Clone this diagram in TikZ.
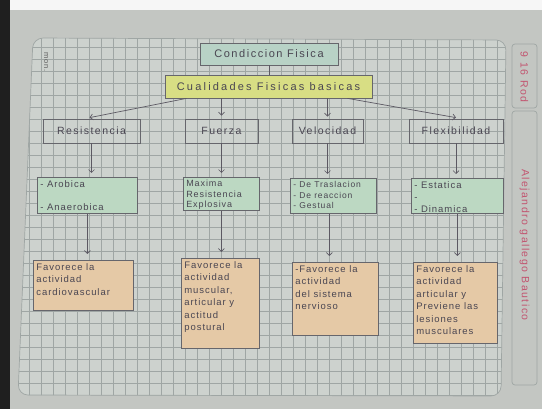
\documentclass[tikz,border=0pt]{standalone}
\usepackage{fontspec}
\newfontfamily\hand[LetterSpace=10]{Liberation Sans}
\newfontfamily\handmid[LetterSpace=14]{Liberation Sans}
\newfontfamily\handwide[LetterSpace=20]{Liberation Sans}
\usetikzlibrary{arrows.meta,calc}

\definecolor{pagegray}{HTML}{C3C6C2}
\definecolor{gridpaper}{HTML}{CDD2CE}
\definecolor{gridline}{HTML}{9FA6A4}
\definecolor{boxline}{HTML}{66666C}
\definecolor{ink}{HTML}{4A4652}
\definecolor{topfill}{HTML}{B8D2C6}
\definecolor{yellowfill}{HTML}{D8DE84}
\definecolor{greenfill}{HTML}{BCD8C2}
\definecolor{orangefill}{HTML}{E5C9A6}
\definecolor{redink}{HTML}{C25570}

% fixed-size, top-aligned text block inside a box
\newcommand\pad[3]{\parbox[t][#2][t]{#1}{\raggedright #3}}

\tikzset{
  conn/.style={draw=ink!90, line width=0.7pt, -{Straight Barb[length=3pt,width=6pt]}},
  plain/.style={draw=ink!90, line width=0.7pt},
  handtext/.style={font=\hand\fontsize{9.5}{12.5}\selectfont, text=ink},
  topbox/.style={text=ink, draw=boxline, line width=0.7pt, fill=topfill, inner sep=0pt,
                 font=\handmid\fontsize{11}{13}\selectfont},
  yellowbox/.style={text=ink, draw=boxline, line width=0.7pt, fill=yellowfill, inner sep=0pt,
                 font=\handwide\fontsize{11}{13}\selectfont},
  lvltwo/.style={text=ink, draw=boxline, line width=0.7pt, minimum height=24pt, inner sep=0pt,
                 font=\handmid\fontsize{10.5}{12}\selectfont},
  greenbox/.style={handtext, draw=boxline, line width=0.7pt, fill=greenfill, anchor=north west, inner sep=3pt},
  orangebox/.style={handtext, draw=boxline, line width=0.7pt, fill=orangefill, anchor=north west, inner sep=3pt},
  sidebox/.style={draw=gridline, line width=0.7pt, rounded corners=3pt},
  sidetext/.style={text=redink, font=\handmid\fontsize{10.5}{11}\selectfont, rotate=-90}
}

\begin{document}
\begin{tikzpicture}[x=1pt,y=-1pt]
\useasboundingbox (0,0) rectangle (542,409);

% page and binding edge
\fill[white!93!gray] (0,0) rectangle (542,409);
\fill[pagegray] (10,10) rectangle (542,409);
\fill[black!88] (0,0) rectangle (10,409);

% squared paper area
\path[fill=gridpaper, rounded corners=10pt] (33,38) -- (506,40) -- (501,396) -- (18,395) -- cycle;
\begin{scope}
  \clip[rounded corners=10pt] (33,38) -- (506,40) -- (501,396) -- (18,395) -- cycle;
  \foreach \x in {29,41,...,509} \draw[gridline, line width=0.45pt] (\x,30) -- (\x,400);
  \foreach \y in {47,59,...,395} \draw[gridline, line width=0.45pt] (10,\y) -- (510,\y);
\end{scope}
\draw[gridline, line width=0.7pt, rounded corners=10pt] (33,38) -- (506,40) -- (501,396) -- (18,395) -- cycle;

% pencil note in the corner
\node[text=gray!75!black, font=\hand\fontsize{7.5}{8}\selectfont, rotate=-90] (note) at (46,62) {mon.};

% side margin: group and name
\draw[sidebox] (512,44) rectangle (537,108);
\draw[sidebox] (512,111) rectangle (537,385);
\node[sidetext] (group) at (524.5,77) {9\enspace 16\enspace Rod};
\node[sidetext] (name) at (524.5,245) {Alejandro gallego Bautico};

% title levels
\node[topbox, minimum width=138pt, minimum height=22pt] (cond) at (269,54) {Condiccion Fisica};
\node[yellowbox, minimum width=207pt, minimum height=23pt] (cual) at (268.5,86.5)
  {\raisebox{-5pt}{Cualidades Fisicas basicas}};
\draw[plain] (cond.south) -- (cond.south |- cual.north);

% the four qualities
\node[lvltwo, minimum width=97pt] (res)  at (91.5,131) {Resistencia};
\node[lvltwo, minimum width=73pt] (fue)  at (221.5,131) {Fuerza};
\node[lvltwo, minimum width=71pt] (vel)  at (327.5,131) {Velocidad};
\node[lvltwo, minimum width=94pt] (flex) at (456,131) {Flexibilidad};

\draw[conn] ($(cual.south west)+(22,0)$) -- ($(res.north)+(-2,-1)$);
\draw[conn] (fue.north |- cual.south) -- ($(fue.north)+(0,-3)$);
\draw[conn] (vel.north |- cual.south) -- ($(vel.north)+(0,-2)$);
\draw[conn] ($(cual.south east)+(-25,0)$) -- ($(flex.north)+(0,-1)$);

% types
\node[greenbox] (resg)  at (37,177)  {\pad{94pt}{30pt}{- Arobica\\[11pt]- Anaerobica}};
\node[greenbox] (fueg)  at (183,177) {\pad{70pt}{27pt}{\fontsize{9}{10.5}\selectfont Maxima\\Resistencia\\Explosiva}};
\node[greenbox] (velg)  at (290,178) {\pad{80pt}{29pt}{\fontsize{8.5}{10.5}\selectfont - De Traslacion\\- De reaccion\\- Gestual}};
\node[greenbox] (flexg) at (411,178) {\pad{86pt}{29pt}{\fontsize{9.5}{12}\selectfont - Estatica\\-\\- Dinamica}};

\draw[conn, shorten >=4pt] (res.south)  -- (res.south |- resg.north);
\draw[conn, shorten >=4pt] (fue.south)  -- (fue.south |- fueg.north);
\draw[conn, shorten >=4pt] (vel.south)  -- (vel.south |- velg.north);
\draw[conn, shorten >=4pt] (flex.south) -- (flex.south |- flexg.north);

% benefits
\node[orangebox] (reso)  at (33,260)  {\pad{94pt}{44pt}{Favorece la\\actividad\\cardiovascular}};
\node[orangebox] (fueo)  at (181,258) {\pad{72pt}{84pt}{Favorece la\\actividad\\muscular,\\articular y\\actitud\\postural}};
\node[orangebox] (velo)  at (292,262) {\pad{80pt}{67pt}{-Favorece la\\actividad\\del sistema\\nervioso}};
\node[orangebox] (flexo) at (413,262) {\pad{78pt}{75pt}{Favorece la\\actividad\\articular y\\Previene las\\lesiones\\musculares}};

\draw[conn, shorten >=6pt] (resg.south)  -- (resg.south |- reso.north);
\draw[conn, shorten >=6pt] (fueg.south)  -- (fueg.south |- fueo.north);
\draw[conn, shorten >=6pt] ($(velg.south)+(-4,0)$) -- ($(velg.south |- velo.north)+(-4,0)$);
\draw[conn, shorten >=6pt] (flexg.south) -- (flexg.south |- flexo.north);
\end{tikzpicture}
\end{document}
